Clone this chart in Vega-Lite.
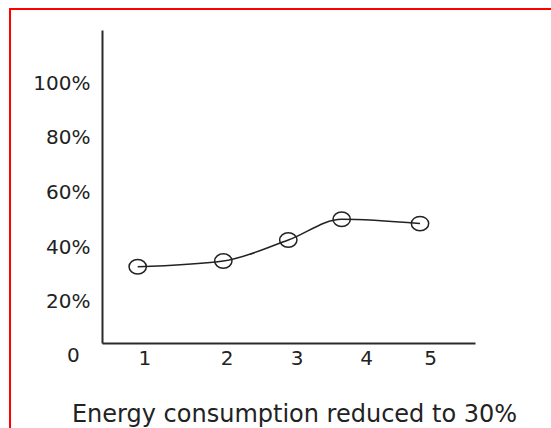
{
  "$schema": "https://vega.github.io/schema/vega-lite/v6.json",
  "autosize": {"type": "none"},
  "padding": {"left": 102, "top": 30, "right": 76, "bottom": 85},
  "width": 373,
  "height": 313,
  "background": "white",
  "config": {
    "view": {"stroke": null},
    "axis": {"grid": false, "ticks": false, "labelFont": "DejaVu Sans", "labelFontSize": 20, "labelColor": "#222", "domainColor": "#2b2b2b", "domainWidth": 2, "titleFont": "DejaVu Sans", "titleFontWeight": "normal", "titleColor": "#222"}
  },
  "layer": [
    {
      "data": {"values": [{"frame": "border"}]},
      "mark": {"type": "rect", "fill": "transparent", "stroke": "#ff0000", "strokeWidth": 2, "clip": false},
      "encoding": {
        "x": {"datum": -0.892, "type": "quantitative"},
        "x2": {"datum": 20},
        "y": {"datum": 127.2, "type": "quantitative"},
        "y2": {"datum": -100}
      }
    },
    {
      "data": {
        "values": [
          {"x": 0.907, "y": 32.8},
          {"x": 1.959, "y": 34.9},
          {"x": 2.88, "y": 42.6},
          {"x": 3.649, "y": 50.2},
          {"x": 4.844, "y": 48.6}
        ]
      },
      "layer": [
        {
          "mark": {"type": "line", "interpolate": "monotone", "stroke": "#222", "strokeWidth": 1.5},
          "encoding": {
            "x": {
              "field": "x", "type": "quantitative",
              "scale": {"type": "linear", "domain": [0.404, 1, 2, 3, 4, 5, 5.7], "range": [0, 42.3, 124.7, 194.7, 264, 328, 373], "zero": false, "nice": false},
              "axis": {"values": [1, 2, 3, 4, 5], "format": "d", "labelPadding": 5, "title": "Energy consumption reduced to 30%", "titleFontSize": 24, "titleX": 192, "titleY": 78, "titleBaseline": "alphabetic", "titleAlign": "center", "titleAnchor": null}
            },
            "y": {
              "field": "y", "type": "quantitative",
              "scale": {"domain": [4.87, 119.5], "zero": false, "nice": false},
              "axis": {"values": [20, 40, 60, 80, 100], "labelExpr": "datum.value + '%'", "labelPadding": 12, "title": null}
            }
          }
        },
        {
          "mark": {"type": "point", "filled": false, "stroke": "#222", "strokeWidth": 1.5, "size": 300, "opacity": 1, "shape": "M-1,0A1,0.83,0,1,0,1,0A1,0.83,0,1,0,-1,0Z"},
          "encoding": {
            "x": {"field": "x", "type": "quantitative"},
            "y": {"field": "y", "type": "quantitative"}
          }
        }
      ]
    },
    {
      "data": {"values": [{"label": "0", "x": 0, "y": 0}]},
      "mark": {"type": "text", "font": "DejaVu Sans", "fontSize": 20, "color": "#222", "align": "center", "baseline": "middle", "clip": false},
      "encoding": {
        "x": {"field": "x", "type": "quantitative"},
        "y": {"field": "y", "type": "quantitative"},
        "text": {"field": "label"}
      }
    }
  ]
}
